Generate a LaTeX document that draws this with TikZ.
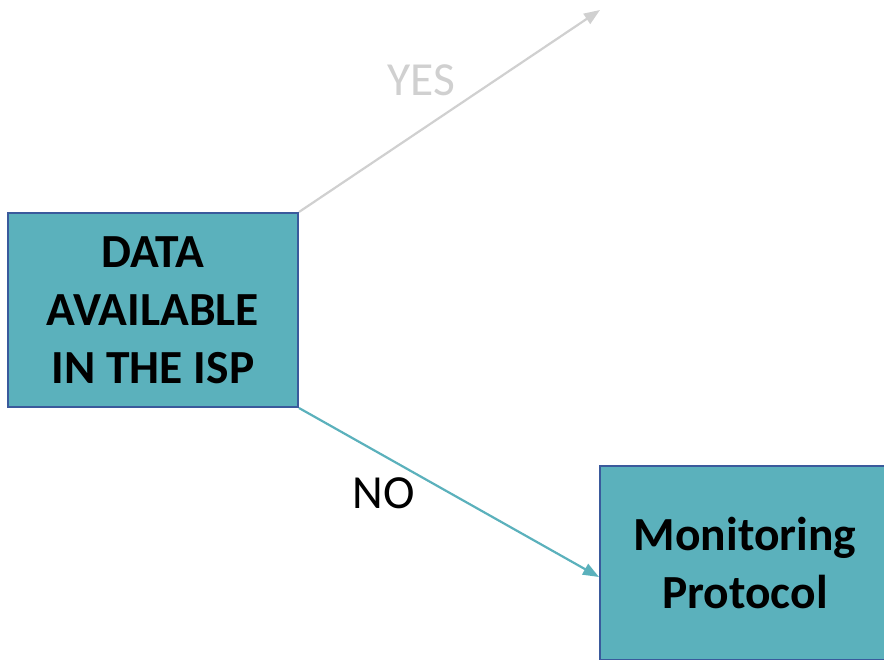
\documentclass[tikz,border=0pt]{standalone}
\usepackage{fontspec}
\setmainfont{Carlito}
\usetikzlibrary{arrows.meta}

\definecolor{boxfill}{HTML}{5BB1BC}
\definecolor{boxline}{HTML}{3A5A9C}
\definecolor{yesgray}{HTML}{D0D0D0}

\begin{document}
\begin{tikzpicture}[x=1pt, y=-1pt,
    decision/.style={draw=boxline, line width=2pt, fill=boxfill,
        minimum width=290pt, minimum height=194pt, inner sep=0pt,
        align=center, font=\fontsize{47.5}{58}\selectfont\bfseries},
    tip/.style={-{Triangle[length=16pt, width=12pt]}, line width=2.2pt}]

    % page frame
    \useasboundingbox (0,0) rectangle (884,660);
    \clip (0,0) rectangle (884,660);

    % boxes
    \node[decision] (isp) at (153,310) {DATA\\AVAILABLE\\IN THE ISP};
    \node[decision] (monitor) at (745,563) {Monitoring\\Protocol};

    % free end of the yes branch
    \coordinate (yesend) at (600,10);

    % arrows
    \draw[tip, yesgray] (isp.north east) -- (yesend);
    \draw[tip, boxfill] (isp.south east) -- ([yshift=-14pt]monitor.west);

    % branch labels
    \node[yesgray, font=\fontsize{47.5}{56}\selectfont] (yes) at (421,80) {YES};
    \node[black, font=\fontsize{47.5}{56}\selectfont] (no) at (384,493) {NO};

\end{tikzpicture}
\end{document}
